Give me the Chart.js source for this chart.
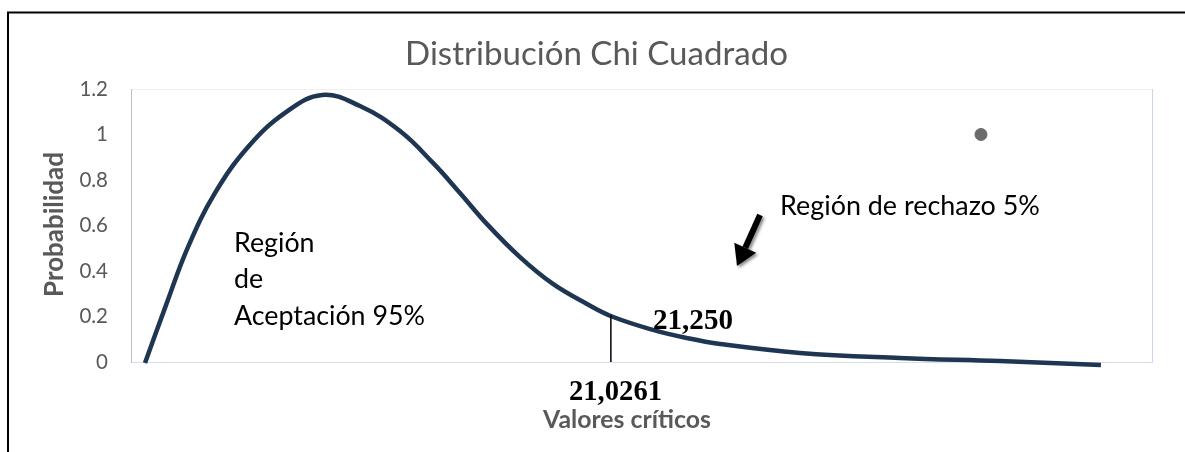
<!DOCTYPE html>
<html>
<head>
<meta charset="utf-8">
<script src="https://cdn.jsdelivr.net/npm/chart.js@4.4.1/dist/chart.umd.min.js"></script>
<style>
  html, body { margin: 0; padding: 0; background: #ffffff; }
  #wrap { width: 1185px; height: 452px; position: relative; }
</style>
</head>
<body>
<div id="wrap"><canvas id="c" width="1185" height="452"></canvas></div>
<script>
// ---- data ----
const curveX = [1.37, 3.43, 5.58, 8.23, 11.46, 15.08, 18.71, 22.43, 26.35, 29.58, 32.22, 34.87, 38.10, 41.33, 44.66, 47.11, 51.13, 54.46, 57.69, 65.52, 75.32, 85.11, 95.00];
const curveY = [-0.004, 0.250, 0.505, 0.743, 0.945, 1.095, 1.174, 1.125, 1.015, 0.875, 0.743, 0.606, 0.461, 0.343, 0.255, 0.200, 0.141, 0.105, 0.079, 0.040, 0.018, 0.004, -0.013];
const markerX = [83.25];
const markerY = [1.0];
const criticalX = [47.0, 47.0];
const criticalY = [0, 0.206];
const yTickValues = [0, 0.2, 0.4, 0.6, 0.8, 1, 1.2];
const yTickLabels = ['0', '0.2', '0.4', '0.6', '0.8', '1', '1.2'];

const titleText = 'Distribución Chi Cuadrado';
const yTitleText = 'Probabilidad';
const xTitleText = 'Valores críticos';
const criticalLabel = '21,0261';
const upperLabel = '21,250';
const acceptLines = ['Región', 'de', 'Aceptación 95%'];
const rejectText = 'Región de rechazo 5%';

const toPoints = (xs, ys) => xs.map((x, i) => ({ x: x, y: ys[i] }));

function fitSize(ctx, text, weight, family, targetW) {
  ctx.font = weight + ' 100px ' + family;
  const w = ctx.measureText(text).width;
  return 100 * targetW / w;
}

const decorPlugin = {
  id: 'decor',
  beforeDraw(chart) {
    const ctx = chart.ctx;
    const a = chart.chartArea;
    ctx.save();
    ctx.fillStyle = '#ffffff';
    ctx.fillRect(0, 0, chart.width, chart.height);
    // outer frame (left and top)
    ctx.strokeStyle = '#000000';
    ctx.lineWidth = 2;
    ctx.beginPath();
    ctx.moveTo(8, 452);
    ctx.lineTo(8, 12.5);
    ctx.lineTo(1185, 12.5);
    ctx.stroke();
    // plot area border
    ctx.lineWidth = 1;
    ctx.strokeStyle = '#f0f0f0';
    ctx.beginPath(); ctx.moveTo(a.left, a.top + 0.5); ctx.lineTo(a.right, a.top + 0.5); ctx.stroke();
    ctx.strokeStyle = '#c9d6ee';
    ctx.beginPath(); ctx.moveTo(a.right + 0.5, a.top); ctx.lineTo(a.right + 0.5, a.bottom); ctx.stroke();
    ctx.strokeStyle = '#d5deef';
    ctx.beginPath(); ctx.moveTo(a.left, a.bottom + 0.5); ctx.lineTo(a.right + 1, a.bottom + 0.5); ctx.stroke();
    ctx.strokeStyle = '#bfbfbf';
    ctx.beginPath(); ctx.moveTo(a.left + 0.5, a.top); ctx.lineTo(a.left + 0.5, a.bottom + 1); ctx.stroke();
    ctx.restore();
  },
  afterDraw(chart) {
    const ctx = chart.ctx;
    ctx.save();
    const sans = 'Lato, "Open Sans", sans-serif';
    const serif = '"Liberation Serif", "DejaVu Serif", serif';
    ctx.textBaseline = 'alphabetic';

    // title
    let s = fitSize(ctx, titleText, '400', sans, 383);
    ctx.font = '400 ' + s + 'px ' + sans;
    ctx.fillStyle = '#595959';
    ctx.textAlign = 'center';
    ctx.fillText(titleText, 596.5, 65);

    // y axis title
    s = fitSize(ctx, yTitleText, '700', sans, 145);
    ctx.font = '700 ' + s + 'px ' + sans;
    ctx.save();
    ctx.translate(63, 224.5);
    ctx.rotate(-Math.PI / 2);
    ctx.textAlign = 'center';
    ctx.fillText(yTitleText, 0, 0);
    ctx.restore();

    // x axis title
    s = fitSize(ctx, xTitleText, '700', sans, 168);
    ctx.font = '700 ' + s + 'px ' + sans;
    ctx.textAlign = 'center';
    ctx.fillText(xTitleText, 627, 428);

    // critical values
    ctx.fillStyle = '#000000';
    s = fitSize(ctx, criticalLabel, '700', serif, 93);
    ctx.font = '700 ' + s + 'px ' + serif;
    ctx.textAlign = 'center';
    ctx.fillText(criticalLabel, 615.5, 400);
    s = fitSize(ctx, upperLabel, '700', serif, 80);
    ctx.font = '700 ' + s + 'px ' + serif;
    ctx.textAlign = 'left';
    ctx.fillText(upperLabel, 653, 329);

    // region texts
    s = fitSize(ctx, acceptLines[2], '400', sans, 191);
    ctx.font = '400 ' + s + 'px ' + sans;
    ctx.textAlign = 'left';
    ctx.fillText(acceptLines[0], 234, 252);
    ctx.fillText(acceptLines[1], 234, 288);
    ctx.fillText(acceptLines[2], 234, 325);
    s = fitSize(ctx, rejectText, '400', sans, 260);
    ctx.font = '400 ' + s + 'px ' + sans;
    ctx.fillText(rejectText, 780, 215);

    // arrow
    const tx = 760, ty = 215, hx = 737, hy = 266;
    const ang = Math.atan2(hy - ty, hx - tx);
    const headLen = 20, headW = 12;
    const bx = hx - headLen * Math.cos(ang), by = hy - headLen * Math.sin(ang);
    ctx.shadowColor = 'rgba(0,0,0,0.45)';
    ctx.shadowBlur = 3;
    ctx.shadowOffsetX = 2;
    ctx.shadowOffsetY = 2;
    ctx.strokeStyle = '#000000';
    ctx.lineWidth = 6;
    ctx.beginPath(); ctx.moveTo(tx, ty); ctx.lineTo(bx, by); ctx.stroke();
    ctx.fillStyle = '#000000';
    ctx.beginPath();
    ctx.moveTo(hx, hy);
    ctx.lineTo(bx + headW * Math.sin(ang), by - headW * Math.cos(ang));
    ctx.lineTo(bx - headW * Math.sin(ang), by + headW * Math.cos(ang));
    ctx.closePath();
    ctx.fill();
    ctx.restore();
  }
};

new Chart(document.getElementById('c'), {
  type: 'scatter',
  data: {
    datasets: [
      {
        label: 'Chi cuadrado',
        data: toPoints(curveX, curveY),
        showLine: true,
        borderColor: '#1f3652',
        borderWidth: 4.5,
        pointRadius: 0,
        tension: 0.4,
        clip: false,
        order: 2
      },
      {
        label: 'Crítico',
        data: toPoints(criticalX, criticalY),
        showLine: true,
        borderColor: '#000000',
        borderWidth: 1.5,
        pointRadius: 0,
        clip: false,
        order: 1
      },
      {
        label: 'Punto',
        data: toPoints(markerX, markerY),
        showLine: false,
        pointRadius: 6,
        pointBackgroundColor: '#6b6b6b',
        pointBorderColor: '#6b6b6b',
        order: 0
      }
    ]
  },
  options: {
    responsive: false,
    animation: false,
    devicePixelRatio: 1,
    layout: { padding: { left: 0, right: 33, top: 89, bottom: 90 } },
    plugins: { legend: { display: false }, tooltip: { enabled: false }, title: { display: false } },
    scales: {
      x: { type: 'linear', display: false, min: 0, max: 100 },
      y: {
        type: 'linear',
        min: 0,
        max: 1.2,
        afterFit(scale) { scale.width = 131; },
        afterBuildTicks(scale) { scale.ticks = yTickValues.map(v => ({ value: v })); },
        grid: { display: false, drawTicks: false },
        border: { display: false },
        ticks: {
          padding: 23,
          color: '#595959',
          font: { family: 'Lato, "Open Sans", sans-serif', size: 20.5 },
          callback: (v) => { const i = yTickValues.indexOf(Math.round(v * 10) / 10); return i >= 0 ? yTickLabels[i] : ''; }
        }
      }
    }
  },
  plugins: [decorPlugin]
});
</script>
</body>
</html>
